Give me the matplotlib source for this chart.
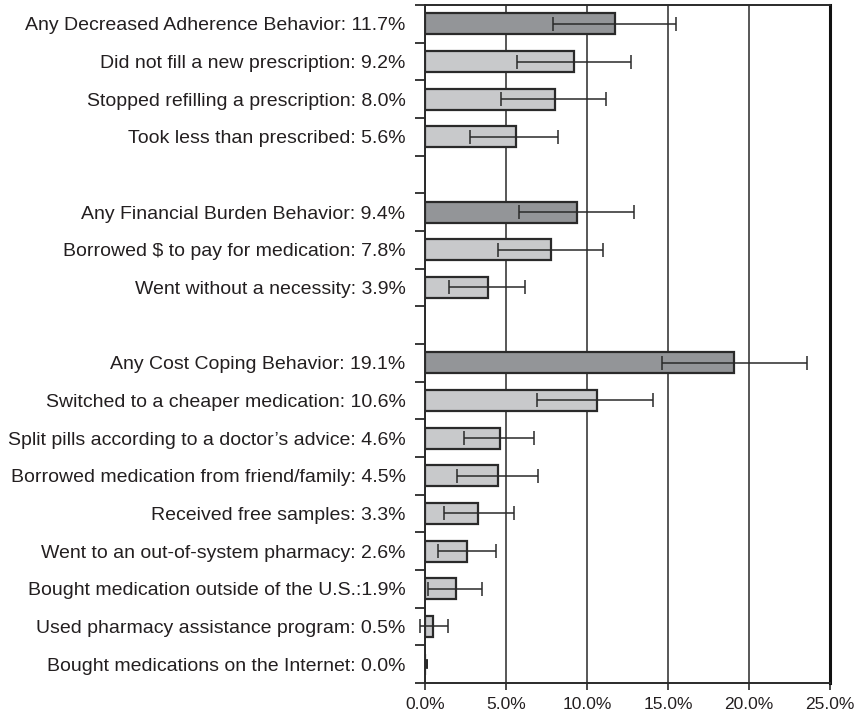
import matplotlib
matplotlib.use("Agg")
import matplotlib.pyplot as plt
from matplotlib.ticker import FixedLocator, NullFormatter
import numpy as np

plt.rcParams['font.family'] = ['Liberation Sans', 'DejaVu Sans']

# rows from top to bottom; None marks an empty spacer row between groups
labels = [
    "Any Decreased Adherence Behavior: 11.7%",
    "Did not fill a new prescription: 9.2%",
    "Stopped refilling a prescription: 8.0%",
    "Took less than prescribed: 5.6%",
    None,
    "Any Financial Burden Behavior: 9.4%",
    "Borrowed $ to pay for medication: 7.8%",
    "Went without a necessity: 3.9%",
    None,
    "Any Cost Coping Behavior: 19.1%",
    "Switched to a cheaper medication: 10.6%",
    "Split pills according to a doctor\u2019s advice: 4.6%",
    "Borrowed medication from friend/family: 4.5%",
    "Received free samples: 3.3%",
    "Went to an out-of-system pharmacy: 2.6%",
    "Bought medication outside of the U.S.:1.9%",
    "Used pharmacy assistance program: 0.5%",
    "Bought medications on the Internet: 0.0%",
]
values = [11.7, 9.2, 8.0, 5.6, None, 9.4, 7.8, 3.9, None,
          19.1, 10.6, 4.6, 4.5, 3.3, 2.6, 1.9, 0.5, 0.0]
ci_low = [7.9, 5.7, 4.7, 2.8, None, 5.8, 4.5, 1.5, None,
          14.6, 6.9, 2.4, 2.0, 1.2, 0.8, 0.2, -0.3, 0.0]
ci_high = [15.5, 12.7, 11.2, 8.2, None, 12.9, 11.0, 6.2, None,
           23.6, 14.1, 6.7, 7.0, 5.5, 4.4, 3.5, 1.4, 0.0]
summary_rows = [0, 5, 9]

fig = plt.figure(figsize=(8.61, 7.15), dpi=100)
ax = fig.add_axes([0.4936, 0.0448, 0.4704, 0.9482])

ink = '#2a2a2a'
for i, v in enumerate(values):
    if v is None:
        continue
    color = '#939598' if i in summary_rows else '#c8c9cb'
    ax.barh(i, v, height=0.56, color=color, edgecolor=ink, linewidth=1.6, zorder=3)
    if ci_high[i] > ci_low[i]:
        eb = ax.errorbar(v, i, xerr=[[v - ci_low[i]], [ci_high[i] - v]], fmt='none',
                         ecolor=ink, elinewidth=1.1, capsize=5, capthick=1.1, zorder=4)
        for art in eb.lines[1] + eb.lines[2]:
            art.set_clip_on(False)
    else:
        # zero-width bar: show a small stub at the axis
        ax.plot([0, 0.16], [i, i], color=ink, linewidth=7, solid_capstyle='butt',
                zorder=4, clip_on=False)

n = len(labels)
ax.set_ylim(n - 0.5, -0.5)
ax.set_xlim(0, 25)

ticks = [i for i, l in enumerate(labels) if l is not None]
ax.set_yticks(ticks)
ax.set_yticklabels([labels[i] for i in ticks], fontsize=14, color='#231f20')
ax.yaxis.set_minor_locator(FixedLocator(np.arange(-0.5, n, 1.0)))
ax.yaxis.set_minor_formatter(NullFormatter())
ax.tick_params(axis='y', which='major', left=False, length=0, pad=14)
ax.tick_params(axis='y', which='minor', left=True, length=7, width=1.3,
               color=ink, direction='out')

ax.set_xticks(np.arange(0, 25.1, 5))
ax.set_xticklabels([f"{t:.1f}%" for t in np.arange(0, 25.1, 5)], fontsize=12.5, color='#231f20')
ax.tick_params(axis='x', length=5, width=1.2, color=ink, direction='out', pad=5)

ax.xaxis.grid(True, color=ink, linewidth=1.1, zorder=0)
ax.set_axisbelow(True)
for side in ['left', 'bottom', 'top']:
    ax.spines[side].set_color(ink)
    ax.spines[side].set_linewidth(1.4)
ax.spines['right'].set_color('#111111')
ax.spines['right'].set_linewidth(2.2)

fig.savefig('out.png', dpi=100)
